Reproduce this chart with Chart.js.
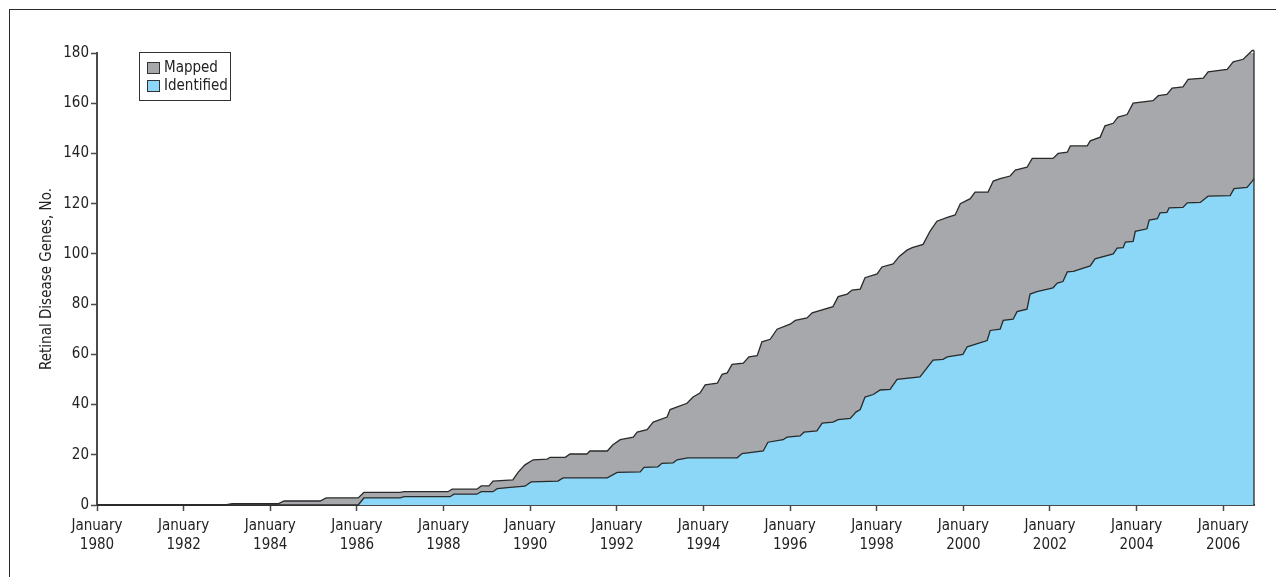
<!DOCTYPE html>
<html>
<head>
<meta charset="utf-8">
<script src="https://cdn.jsdelivr.net/npm/chart.js@4.4.1/dist/chart.umd.min.js"></script>
<style>
    html, body { margin: 0; padding: 0; background: #fff; }
    #wrap { position: relative; width: 1276px; height: 577px; overflow: hidden; }
    #frame {
        position: absolute; left: 9px; top: 9px; right: -5px; bottom: -5px;
        border-top: 1.5px solid #2b2b2b; border-left: 1.5px solid #2b2b2b;
    }
    #genesChart { position: absolute; left: 0; top: 0; }
</style>
</head>
<body>
<div id="wrap">
    <div id="frame"></div>
    <canvas id="genesChart" width="1276" height="577"></canvas>
</div>
<script>
const seriesLabels = ["Mapped", "Identified"];
const tickYears = [1980, 1982, 1984, 1986, 1988, 1990, 1992, 1994, 1996, 1998, 2000, 2002, 2004, 2006];
const yTicks = [0, 20, 40, 60, 80, 100, 120, 140, 160, 180];

// cumulative counts (decimal years)
const mappedYears = [
    1980.00, 1982.96, 1983.12, 1984.18, 1984.32, 1985.15, 1985.29, 1986.03, 1986.16, 1987.00,
    1987.09, 1988.10, 1988.20, 1988.77, 1988.87, 1989.05, 1989.14, 1989.60, 1989.72, 1989.88,
    1990.07, 1990.39, 1990.46, 1990.81, 1990.92, 1991.31, 1991.38, 1991.78, 1991.91, 1992.08,
    1992.38, 1992.47, 1992.70, 1992.84, 1993.16, 1993.23, 1993.62, 1993.76, 1993.92, 1994.04,
    1994.32, 1994.43, 1994.55, 1994.66, 1994.92, 1995.05, 1995.24, 1995.35, 1995.54, 1995.70,
    1996.00, 1996.12, 1996.39, 1996.51, 1996.99, 1997.11, 1997.32, 1997.43, 1997.62, 1997.73,
    1998.01, 1998.12, 1998.38, 1998.52, 1998.70, 1998.82, 1999.07, 1999.23, 1999.39, 1999.63,
    1999.81, 1999.93, 2000.16, 2000.27, 2000.57, 2000.69, 2000.85, 2001.08, 2001.20, 2001.47,
    2001.59, 2002.07, 2002.19, 2002.40, 2002.47, 2002.86, 2002.93, 2003.16, 2003.27, 2003.46,
    2003.57, 2003.78, 2003.92, 2004.38, 2004.50, 2004.70, 2004.82, 2005.07, 2005.19, 2005.54,
    2005.65, 2006.09, 2006.23, 2006.46, 2006.58, 2006.67, 2006.71
];
const mappedCounts = [
    0, 0, 0.5, 0.5, 1.6, 1.6, 2.8, 2.8, 5.0, 5.0,
    5.3, 5.3, 6.3, 6.3, 7.6, 7.6, 9.5, 10, 13, 16,
    18, 18.3, 19, 19, 20.3, 20.3, 21.5, 21.5, 24, 26,
    27, 29, 30, 33, 35, 38, 40.5, 43, 44.6, 47.8,
    48.5, 52, 52.6, 56, 56.5, 59, 59.5, 65, 66, 70,
    72, 73.5, 74.5, 76.5, 79, 83, 84, 85.6, 86, 90.5,
    92, 94.8, 96, 99, 101.5, 102.5, 103.8, 109, 113, 114.5,
    115.5, 120, 122, 124.6, 124.6, 129, 130, 131, 133.4, 134.5,
    138, 138, 140, 140.5, 143, 143, 145, 146.5, 151, 152,
    154.5, 155.5, 160, 161, 163, 163.5, 166, 166.5, 169.5, 170,
    172.5, 173.5, 176.5, 177.5, 179.5, 181, 181
];

const identifiedYears = [
    1980.00, 1986.03, 1986.16, 1987.00, 1987.09, 1988.15, 1988.24, 1988.77, 1988.87, 1989.14,
    1989.24, 1989.54, 1989.88, 1990.02, 1990.64, 1990.76, 1991.78, 1992.01, 1992.54, 1992.63,
    1992.95, 1993.04, 1993.30, 1993.39, 1993.64, 1994.78, 1994.89, 1995.38, 1995.49, 1995.84,
    1995.93, 1996.23, 1996.32, 1996.62, 1996.74, 1996.99, 1997.11, 1997.39, 1997.52, 1997.62,
    1997.73, 1997.92, 1998.08, 1998.31, 1998.47, 1999.00, 1999.30, 1999.53, 1999.63, 1999.99,
    2000.09, 2000.55, 2000.62, 2000.85, 2000.92, 2001.15, 2001.24, 2001.47, 2001.54, 2001.70,
    2002.07, 2002.17, 2002.30, 2002.40, 2002.54, 2002.93, 2003.04, 2003.46, 2003.55, 2003.69,
    2003.74, 2003.92, 2003.97, 2004.24, 2004.29, 2004.48, 2004.54, 2004.70, 2004.75, 2005.07,
    2005.17, 2005.47, 2005.65, 2006.16, 2006.25, 2006.55, 2006.67, 2006.71
];
const identifiedCounts = [
    0, 0, 2.8, 2.8, 3.3, 3.3, 4.3, 4.3, 5.3, 5.3,
    6.5, 7.0, 7.5, 9.2, 9.5, 10.8, 10.8, 13, 13.2, 15,
    15.2, 16.6, 16.8, 18, 18.8, 18.8, 20.5, 21.5, 25, 26,
    27, 27.5, 29, 29.5, 32.6, 33, 34, 34.5, 37, 38,
    43, 44, 45.8, 46, 50, 51, 57.7, 58, 59, 60,
    63, 65.5, 69.5, 70, 73.5, 74, 77, 78, 84, 85,
    86.5, 88.4, 89, 92.8, 93, 95.2, 98, 100, 102.3, 102.5,
    104.7, 105, 109, 110, 113.5, 114, 116.3, 116.5, 118.3, 118.5,
    120.3, 120.5, 123, 123.2, 126, 126.5, 129, 130
];

const fontFamily = '"Liberation Sans Narrow", "DejaVu Sans Condensed", "Liberation Sans", Arial, sans-serif';
const textColor = "#222";
const axisColor = "#4a4a4a";
const fillColors = ["#a7a8ab", "#8cd7f7"];

const toPoints = (xs, ys) => xs.map((x, i) => ({ x: x, y: ys[i] }));

// legend box drawn inside the plot, top left
const boxLegend = {
    id: "boxLegend",
    afterDraw(chart) {
        const ctx = chart.ctx;
        const left = 139, top = 52, width = 91, height = 48;
        ctx.save();
        ctx.fillStyle = "#fff";
        ctx.fillRect(left, top, width, height);
        ctx.strokeStyle = "#333";
        ctx.lineWidth = 1;
        ctx.strokeRect(left + 0.5, top + 0.5, width, height);
        ctx.font = "15px " + fontFamily;
        ctx.textBaseline = "middle";
        seriesLabels.forEach((label, i) => {
            const y = top + 16 + i * 18;
            ctx.fillStyle = fillColors[i];
            ctx.fillRect(147, y - 6, 13, 12);
            ctx.strokeStyle = "#333";
            ctx.strokeRect(147.5, y - 5.5, 12, 11);
            ctx.fillStyle = textColor;
            ctx.fillText(label, 164, y);
        });
        ctx.restore();
    }
};

// dark edge down the right end of the stacked area
const rightEdge = {
    id: "rightEdge",
    afterDatasetsDraw(chart) {
        const meta = chart.getDatasetMeta(0);
        const last = meta.data[meta.data.length - 1];
        const ctx = chart.ctx;
        ctx.save();
        ctx.strokeStyle = "#2a2a2a";
        ctx.lineWidth = 1.3;
        ctx.beginPath();
        ctx.moveTo(last.x, last.y);
        ctx.lineTo(last.x, chart.chartArea.bottom);
        ctx.stroke();
        ctx.restore();
    }
};

const ctx = document.getElementById("genesChart").getContext("2d");

const chart = new Chart(ctx, {
    type: "line",
    data: {
        datasets: [
            {
                label: seriesLabels[0],
                data: toPoints(mappedYears, mappedCounts),
                backgroundColor: fillColors[0],
                borderColor: "#2a2a2a",
                borderWidth: 1.3,
                fill: "origin",
                pointRadius: 0,
                tension: 0,
                clip: false,
                order: 2
            },
            {
                label: seriesLabels[1],
                data: toPoints(identifiedYears, identifiedCounts),
                backgroundColor: fillColors[1],
                borderColor: "#2a2a2a",
                borderWidth: 1.3,
                fill: "origin",
                pointRadius: 0,
                tension: 0,
                clip: false,
                order: 1
            }
        ]
    },
    options: {
        responsive: false,
        animation: false,
        layout: {
            padding: { left: 0, right: 22, top: 53, bottom: 0 }
        },
        plugins: {
            legend: { display: false },
            tooltip: { enabled: false }
        },
        scales: {
            x: {
                type: "linear",
                min: 1980,
                max: 2006.71,
                afterBuildTicks: (axis) => {
                    axis.ticks = tickYears.map(v => ({ value: v }));
                },
                afterFit: (axis) => { axis.height = 72; },
                border: { display: true, color: axisColor, width: 2 },
                grid: {
                    drawOnChartArea: false,
                    drawTicks: true,
                    tickLength: 6,
                    tickWidth: 1.5,
                    tickColor: axisColor
                },
                ticks: {
                    padding: 5,
                    maxRotation: 0,
                    autoSkip: false,
                    color: textColor,
                    font: { family: fontFamily, size: 15, lineHeight: 1.3 },
                    callback: (value) => ["January", String(value)]
                }
            },
            y: {
                min: 0,
                max: 180,
                afterBuildTicks: (axis) => {
                    axis.ticks = yTicks.map(v => ({ value: v }));
                },
                afterFit: (axis) => { axis.width = 97; },
                border: { display: true, color: axisColor, width: 2 },
                grid: {
                    drawOnChartArea: false,
                    drawTicks: true,
                    tickLength: 6,
                    tickWidth: 1.5,
                    tickColor: axisColor
                },
                ticks: {
                    padding: 2,
                    color: textColor,
                    font: { family: fontFamily, size: 15 }
                },
                title: {
                    display: true,
                    text: "Retinal Disease Genes, No.",
                    color: textColor,
                    font: { family: fontFamily, size: 15 },
                    padding: { top: 38, bottom: 0 }
                }
            }
        }
    },
    plugins: [boxLegend, rightEdge]
});
</script>
</body>
</html>
